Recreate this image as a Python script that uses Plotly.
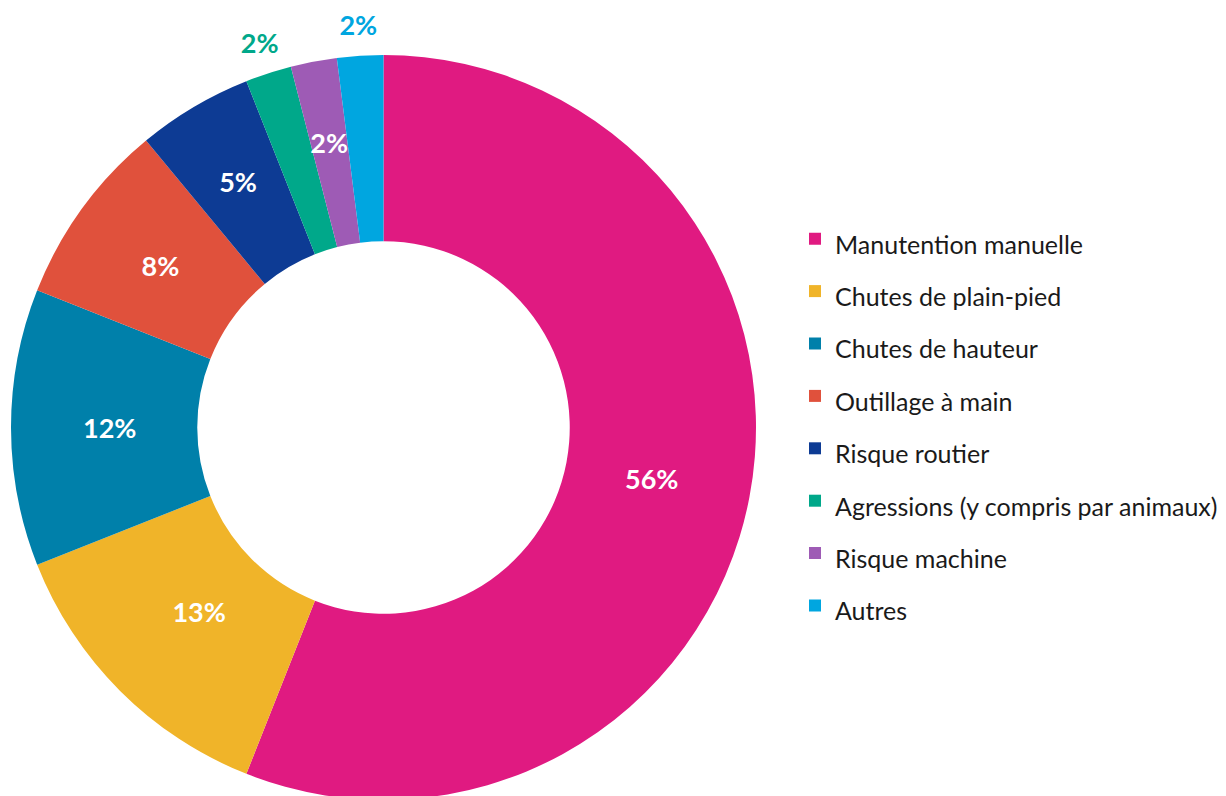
import math
import plotly.graph_objects as go

# ---- data ----
labels = ["Manutention manuelle", "Chutes de plain-pied", "Chutes de hauteur",
          "Outillage à main", "Risque routier", "Agressions (y compris par animaux)",
          "Risque machine", "Autres"]
values = [56, 13, 12, 8, 5, 2, 2, 2]

# ---- styles ----
colors = ["#E01A81", "#F0B429", "#0080AA", "#E0513C", "#0D3B94", "#00A88A", "#9E5BB5", "#00A6E0"]
label_colors = ["white", "white", "white", "white", "white", "#00A88A", "white", "#00A6E0"]
outside = [False, False, False, False, False, True, False, True]
# distance of each percentage label from the centre, as a fraction of the outer radius
label_radius = [0.733, 0.70, 0.735, 0.74, 0.767, 1.075, 0.778, 1.075]

W, H = 1226, 796
FONT = "Lato"
CX, CY, R = 375.5, 419.5, 372.5      # pie centre and radius in figure pixels (from top-left)
HOLE = 0.5
THIN = 0.98                           # thin transparent rings that carry the small-slice labels
Y_TOP = 1.12                          # hidden y axis reaches a little above the ring


def domain_for(radius):
    return dict(x=[(CX - radius) / W, (CX + radius) / W],
                y=[(H - CY - radius) / H, (H - CY + radius) / H])


legend_labels = ['<span style="font-size:25px">%s</span>' % l for l in labels]

fig = go.Figure()
fig.add_trace(go.Pie(
    labels=legend_labels,
    values=values,
    sort=False,
    direction="clockwise",
    rotation=0,
    hole=HOLE,
    marker=dict(colors=colors, line=dict(width=0)),
    textinfo="none",
    domain=domain_for(R),
    hovertemplate="%{label}: %{percent:.0%}<extra></extra>",
))

# inside labels: transparent rings place each percentage on its slice's mid-angle
total = sum(values)
for k in range(len(values)):
    if outside[k]:
        continue
    half = math.pi * values[k] / total
    hole_k = HOLE if values[k] / total >= 0.1 else THIN
    r_in = min(1 / (1 + 1 / math.sin(min(half, math.pi / 2))), (1 - hole_k) / 2)
    ring_r = R * label_radius[k] / (1 - r_in)
    pos = ["inside" if i == k else "none" for i in range(len(values))]
    fig.add_trace(go.Pie(
        labels=labels,
        values=values,
        sort=False,
        direction="clockwise",
        rotation=0,
        hole=hole_k,
        marker=dict(colors=["rgba(0,0,0,0)"] * len(values), line=dict(width=0)),
        texttemplate="%{percent:.0%}",
        textposition=pos,
        insidetextorientation="horizontal",
        textfont=dict(family=FONT, size=27, color=label_colors[k], weight="bold"),
        domain=domain_for(ring_r),
        showlegend=False,
        hoverinfo="skip",
    ))

# outside labels: text on hidden axes whose unit is the pie radius
ox, oy, otext, ocol = [], [], [], []
cum = 0
for k, v in enumerate(values):
    theta = 2 * math.pi * (cum + v / 2) / total
    cum += v
    if outside[k]:
        ox.append(label_radius[k] * math.sin(theta))
        oy.append(label_radius[k] * math.cos(theta))
        otext.append("%d%%" % round(100 * v / total))
        ocol.append(label_colors[k])

fig.add_trace(go.Scatter(
    x=ox, y=oy, text=otext, mode="text",
    textposition="middle center",
    textfont=dict(family=FONT, size=27, color=ocol, weight="bold"),
    cliponaxis=False,
    showlegend=False, hoverinfo="skip",
))

fig.update_layout(
    width=W, height=H,
    margin=dict(l=0, r=0, t=0, b=0),
    paper_bgcolor="white",
    plot_bgcolor="rgba(0,0,0,0)",
    font=dict(family=FONT, color="#1a1a1a"),
    uniformtext=dict(minsize=27, mode="show"),
    showlegend=True,
    xaxis=dict(visible=False, range=[-1, 1], domain=domain_for(R)["x"], fixedrange=True),
    yaxis=dict(visible=False, range=[-1, Y_TOP], fixedrange=True,
               domain=[(H - CY - R) / H, (H - CY + Y_TOP * R) / H]),
    legend=dict(
        x=787 / W, xanchor="left",
        y=1 - 414.5 / H, yanchor="middle",
        font=dict(family=FONT, size=38, color="#1a1a1a"),
        bgcolor="rgba(0,0,0,0)",
    ),
)

fig.write_html("out.html")
